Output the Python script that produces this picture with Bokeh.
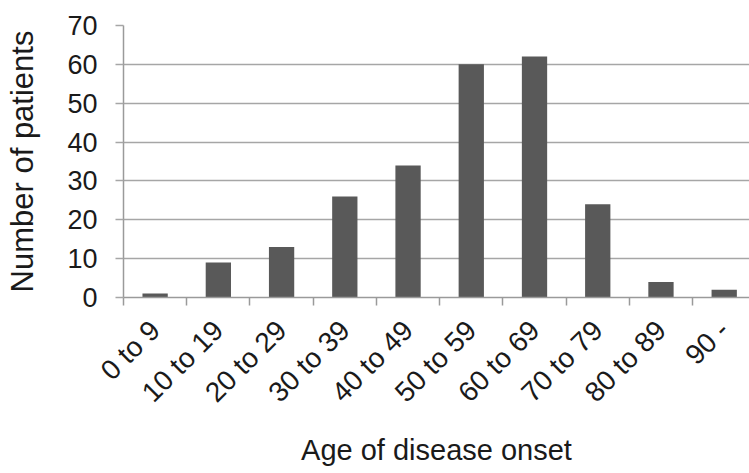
from bokeh.plotting import figure
from bokeh.models import Range1d, FixedTicker
from bokeh.embed import file_html
from bokeh.resources import INLINE
import math

categories = ["0 to 9", "10 to 19", "20 to 29", "30 to 39", "40 to 49",
              "50 to 59", "60 to 69", "70 to 79", "80 to 89", "90 -"]
counts = [1, 9, 13, 26, 34, 60, 62, 24, 4, 2]
y_ticks = [0, 10, 20, 30, 40, 50, 60, 70]

centers = [i + 0.5 for i in range(len(categories))]
bounds = [float(i) for i in range(len(categories) + 1)]

FONT = "Liberation Sans"
GRID = "#a6a6a6"
AXIS = "#9a9a9a"

p = figure(width=749, height=473, output_backend="svg", toolbar_location=None,
           x_range=Range1d(0, 9.9), y_range=Range1d(0, 70),
           min_border_left=123, min_border_right=0, min_border_top=25, min_border_bottom=176)
p.outline_line_color = None
p.background_fill_color = "white"
p.border_fill_color = "white"

p.vbar(x=centers, top=counts, width=0.4, fill_color="#595959", line_color=None)

# x axis
xa = p.xaxis[0]
xa.ticker = FixedTicker(ticks=centers, minor_ticks=bounds)
xa.major_label_overrides = {c: lab for c, lab in zip(centers, categories)}
xa.major_label_orientation = math.pi / 4
xa.major_tick_out = 0
xa.major_tick_in = 0
xa.minor_tick_out = 8
xa.minor_tick_in = 0
xa.minor_tick_line_color = AXIS
xa.axis_line_color = AXIS
xa.axis_line_width = 1.5
xa.minor_tick_line_width = 1.5
xa.major_label_text_font = FONT
xa.major_label_text_font_size = "28px"
xa.major_label_text_color = "#1a1a1a"
xa.major_label_standoff = 20
xa.axis_label = "Age of disease onset"
xa.axis_label_text_font = FONT
xa.axis_label_text_font_size = "29px"
xa.axis_label_text_font_style = "normal"
xa.axis_label_text_color = "#1a1a1a"
xa.axis_label_standoff = 12

# y axis
ya = p.yaxis[0]
ya.ticker = FixedTicker(ticks=y_ticks)
ya.minor_tick_line_color = None
ya.major_tick_out = 8
ya.major_tick_in = 0
ya.major_tick_line_color = GRID
ya.major_tick_line_width = 1.5
ya.axis_line_color = AXIS
ya.axis_line_width = 1.5
ya.major_label_text_font = FONT
ya.major_label_text_font_size = "27px"
ya.major_label_text_color = "#1a1a1a"
ya.major_label_standoff = 18
ya.axis_label = "Number of patients"
ya.axis_label_text_font = FONT
ya.axis_label_text_font_size = "31px"
ya.axis_label_text_font_style = "normal"
ya.axis_label_text_color = "#1a1a1a"
ya.axis_label_standoff = 24

p.xgrid.grid_line_color = None
p.ygrid.ticker = FixedTicker(ticks=y_ticks)
p.ygrid.grid_line_color = GRID
p.ygrid.grid_line_width = 1.5

open("out.html", "w").write(file_html(p, INLINE))
